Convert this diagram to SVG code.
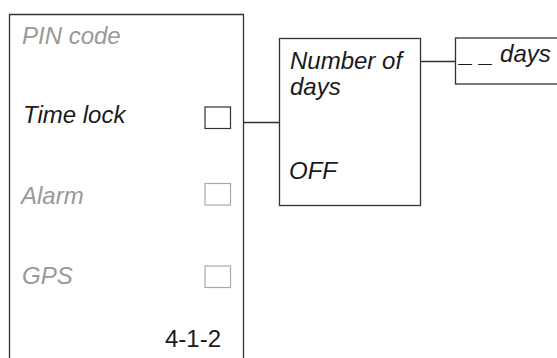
<svg xmlns="http://www.w3.org/2000/svg" width="557" height="358" viewBox="0 0 557 358">
<style>
.box{fill:#fff;stroke:#333;stroke-width:1.3}
.t{font-family:"Liberation Sans",Arial,sans-serif;font-style:italic;font-size:24px}
.dark{fill:#1a1a1a}
.grey{fill:#999}
.cbd{fill:#fff;stroke:#333;stroke-width:1.2}
.cbl{fill:#fff;stroke:#aaa;stroke-width:1.2}
.conn{stroke:#333;stroke-width:1.3;fill:none}
</style>
<rect width="557" height="358" fill="#fff"/>
<g id="connectors">
<line class="conn" x1="243" y1="122.5" x2="279" y2="122.5"/>
<line class="conn" x1="421" y1="61.5" x2="455" y2="61.5"/>
</g>
<g id="menu">
<path class="box" d="M9.5,360 V14.5 H243.5 V360"/>
<text class="t grey" x="22" y="44">PIN code</text>
<text class="t dark" x="23" y="122.5">Time lock</text>
<rect class="cbd" x="205" y="107" width="25.5" height="21.5"/>
<text class="t grey" x="21" y="203.5">Alarm</text>
<rect class="cbl" x="205" y="183.5" width="25.5" height="21.5"/>
<text class="t grey" x="22" y="283.5">GPS</text>
<rect class="cbl" x="205" y="266" width="25.5" height="21.5"/>
<text class="dark" x="165" y="346.5" font-family="'Liberation Sans',Arial,sans-serif" font-size="24">4-1-2</text>
</g>
<g id="timelock-options">
<rect class="box" x="279.5" y="38.5" width="141" height="167"/>
<text class="t dark" x="290" y="69">Number of</text>
<text class="t dark" x="290" y="94.5">days</text>
<text class="t dark" x="289" y="178.5">OFF</text>
</g>
<g id="days-input">
<rect class="box" x="455.5" y="38" width="110" height="46"/>
<text class="t dark" x="460" y="62">_ _ days</text>
</g>
</svg>
